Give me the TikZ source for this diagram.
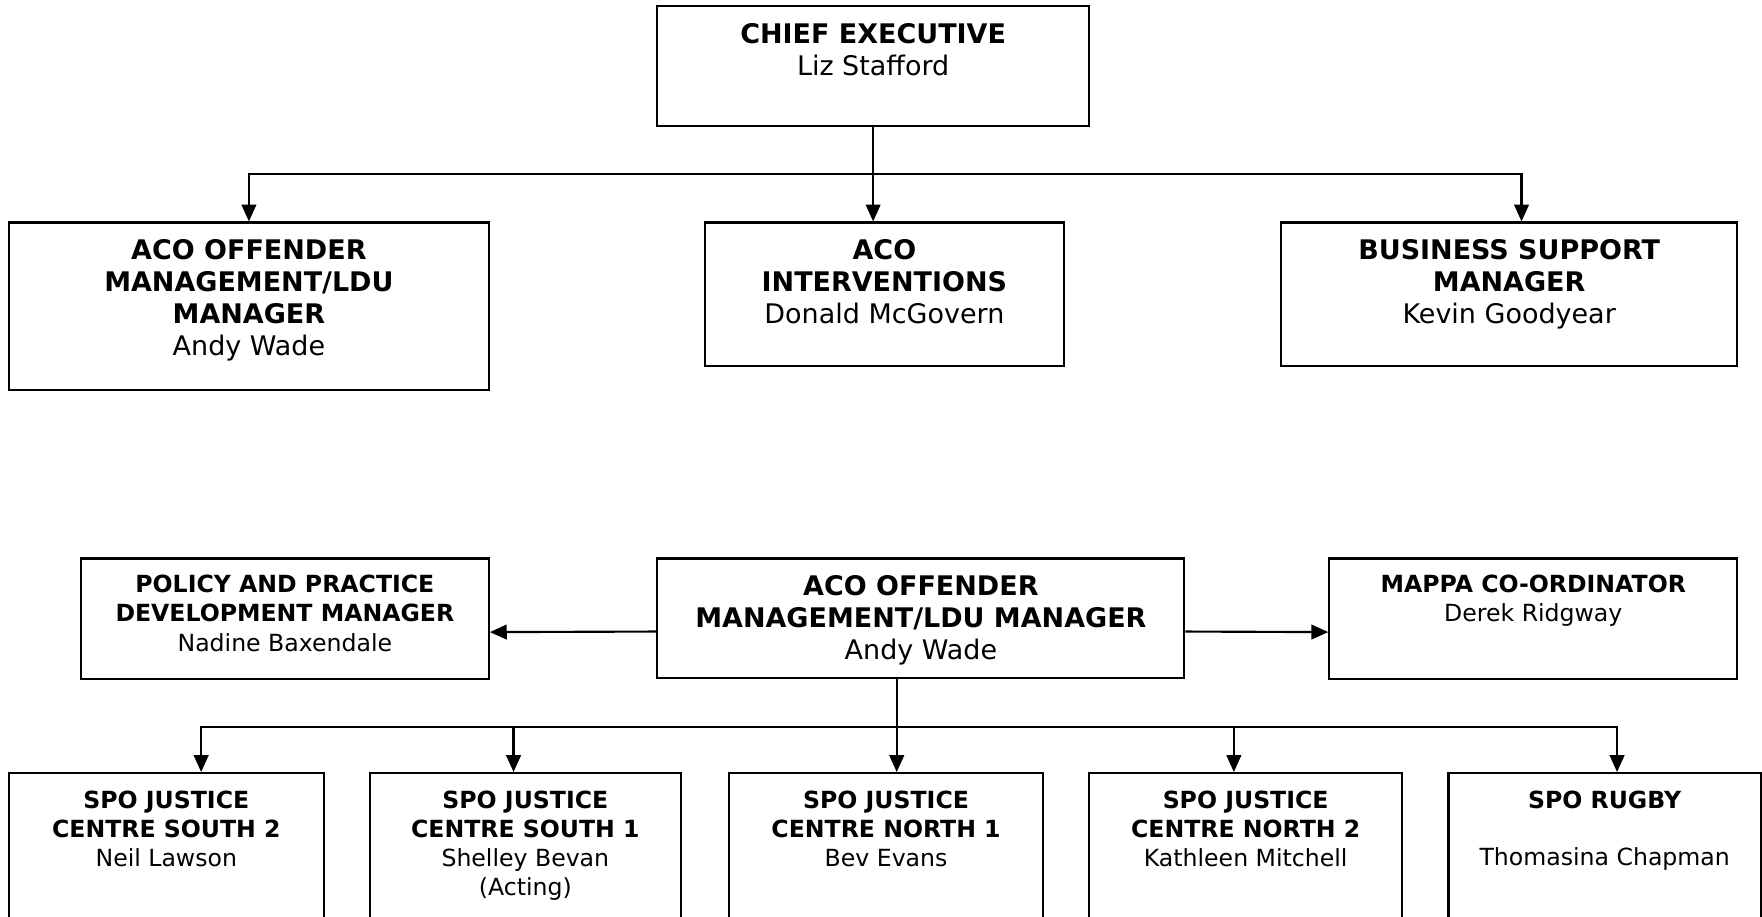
\documentclass[tikz,border=0pt]{standalone}
\usepackage{fontspec}
\setmainfont{DejaVu Sans}
\usetikzlibrary{arrows.meta}
\tikzset{
  post/.style={draw, line width=1.9pt, inner sep=0pt},
  bigtext/.style={anchor=north, inner sep=0pt, align=center, font=\fontsize{24}{28.5}\selectfont},
  smalltext/.style={anchor=north, inner sep=0pt, align=center, font=\fontsize{21}{26}\selectfont},
  link/.style={line width=1.9pt},
  >={Triangle[length=15pt,width=13pt]}
}
\begin{document}
\begin{tikzpicture}[x=1pt, y=-1pt]
\useasboundingbox (0,0) rectangle (1568,816);
% top level
\node[post, minimum width=384pt, minimum height=107pt] (chief) at (777,58.5) {};
\node[bigtext] (chief-t) at ([yshift=-17pt]chief.north) {\textbf{CHIEF EXECUTIVE}\\Liz Stafford};
\node[post, minimum width=427pt, minimum height=149pt] (offmgr) at (221.5,272.5) {};
\node[bigtext] (offmgr-t) at ([yshift=-15.5pt]offmgr.north) {\textbf{ACO OFFENDER}\\\textbf{MANAGEMENT/LDU}\\\textbf{MANAGER}\\Andy Wade};
\node[post, minimum width=320pt, minimum height=128pt] (interv) at (787,262) {};
\node[bigtext] (interv-t) at ([yshift=-15.5pt]interv.north) {\textbf{ACO}\\\textbf{INTERVENTIONS}\\Donald McGovern};
\node[post, minimum width=406pt, minimum height=128pt] (busi) at (1343,262) {};
\node[bigtext] (busi-t) at ([yshift=-15.5pt]busi.north) {\textbf{BUSINESS SUPPORT}\\\textbf{MANAGER}\\Kevin Goodyear};
\coordinate (bus1) at (777,155);
\draw[link] (chief.south) -- (bus1);
\draw[link,->] (bus1) -| (offmgr.north);
\draw[link,->] (bus1) -- (bus1 |- interv.north);
\draw[link,->] (bus1) -| ([xshift=11pt]busi.north);
% offender management
\node[post, minimum width=469pt, minimum height=106pt] (aco) at (819.5,550) {};
\node[bigtext] (aco-t) at ([yshift=-16pt]aco.north) {\textbf{ACO OFFENDER}\\\textbf{MANAGEMENT/LDU MANAGER}\\Andy Wade};
\node[post, minimum width=363pt, minimum height=107pt] (policy) at (253.5,550.5) {};
\node[smalltext] (policy-t) at ([yshift=-15.5pt]policy.north) {\textbf{POLICY AND PRACTICE}\\\textbf{DEVELOPMENT MANAGER}\\Nadine Baxendale};
\node[post, minimum width=363pt, minimum height=107pt] (mappa) at (1364.5,550.5) {};
\node[smalltext] (mappa-t) at ([yshift=-15.5pt]mappa.north) {\textbf{MAPPA CO-ORDINATOR}\\Derek Ridgway};
\draw[link,->] ([yshift=-12pt]aco.west) -- ([yshift=-12pt]policy.east);
\draw[link,->] ([yshift=-12pt]aco.east) -- ([yshift=-12pt]mappa.west);
\coordinate (bus2) at (798,647);
\draw[link] ([xshift=-21.5pt]aco.south) -- (bus2);
\foreach \n/\x/\w/\dx/\t in {
  1/148/280/31/{\textbf{SPO JUSTICE}\\\textbf{CENTRE SOUTH 2}\\Neil Lawson},
  2/467.5/277/-10.5/{\textbf{SPO JUSTICE}\\\textbf{CENTRE SOUTH 1}\\Shelley Bevan\\(Acting)},
  3/788.5/279/9.5/{\textbf{SPO JUSTICE}\\\textbf{CENTRE NORTH 1}\\Bev Evans},
  4/1108.5/279/-10.5/{\textbf{SPO JUSTICE}\\\textbf{CENTRE NORTH 2}\\Kathleen Mitchell},
  5/1428/278/11/{\textbf{SPO RUGBY}\\[25pt]Thomasina Chapman}}
{
  \node[post, minimum width=\w pt, minimum height=200pt] (spo\n) at (\x,788) {};
  \node[smalltext] (spo\n-t) at ([yshift=-16.5pt]spo\n.north) {\t};
  \draw[link,->] (bus2) -| ([xshift=\dx pt]spo\n.north);
}
\end{tikzpicture}
\end{document}
